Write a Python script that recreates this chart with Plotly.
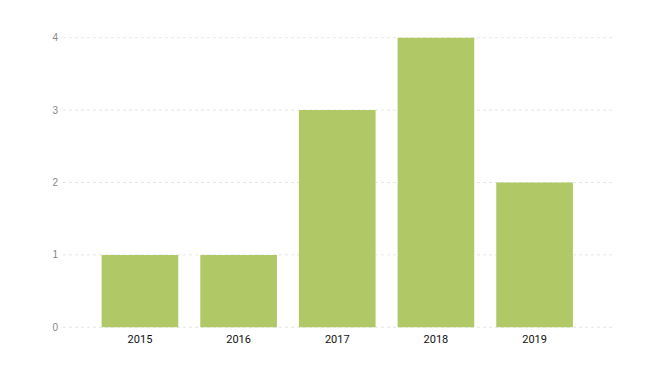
import plotly.graph_objects as go

years = ["2015", "2016", "2017", "2018", "2019"]
counts = [1, 1, 3, 4, 2]
y_ticks = [0, 1, 2, 3, 4]
bar_color = "#b0c966"

fig = go.Figure(go.Bar(x=years, y=counts, marker=dict(color=bar_color, line=dict(width=0))))

# dashed horizontal grid lines at each y tick (drawn as shapes so the edge lines also show)
for t in y_ticks:
    fig.add_shape(type="line", xref="paper", x0=0, x1=1, yref="y", y0=t, y1=t,
                  line=dict(color="#e6e6e6", width=1, dash="3px,3px"), layer="below")

fig.update_layout(
    width=655, height=375,
    margin=dict(l=55, r=50, t=29, b=55),
    paper_bgcolor="white", plot_bgcolor="white",
    bargap=0.223,
    showlegend=False,
    font=dict(family="Liberation Sans", size=11, color="#333333"),
)
fig.update_xaxes(
    type="category", range=[-0.78, 4.795],
    showgrid=False, zeroline=False, showline=False,
    tickfont=dict(family="Roboto", size=11, color="#111111"),
    ticks="outside", ticklen=1, tickcolor="white",
)
fig.update_yaxes(
    range=[-0.01, 4.01], tickvals=y_ticks,
    showgrid=False, zeroline=False, showline=False,
    tickfont=dict(family="Liberation Sans", size=10, color="#888888"),
    ticks="outside", ticklen=2, tickcolor="white",
)

fig.write_html("out.html")
